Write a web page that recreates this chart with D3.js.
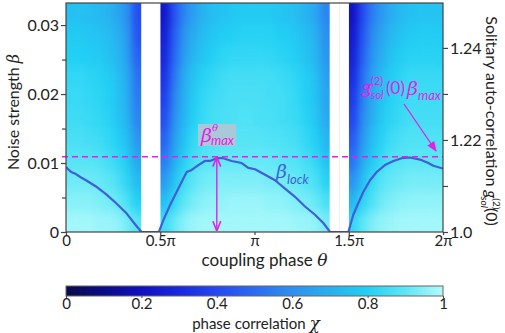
<!DOCTYPE html>
<html><head><meta charset="utf-8">
<script src="https://cdn.jsdelivr.net/npm/d3@7"></script>
<style>
html,body{margin:0;padding:0;background:#fff;}
svg{display:block;font-family:Lato,"Open Sans",sans-serif;}
</style></head><body>
<svg id="c" width="505" height="333"></svg>
<script>
// ---------- DATA ----------
// heatmap columns: theta bins (units of pi), width 0.05 pi, from 0 to 2 pi
const thetaBinStart = d3.range(40).map(k => k * 0.05);
const thetaBinWidth = 0.05;
// beta bins (rows), bottom edges, height 0.003
const betaBinStart = [0, 0.003, 0.006, 0.009, 0.012, 0.015, 0.018, 0.021, 0.024, 0.027, 0.030];
const betaBinHeight = 0.003;
const n = null;
// chi values, rows from bottom (beta 0) to top; null = no data (white gap)
const chiRow0  = [0.98,0.98,0.98,0.97,0.97,0.96,0.93,0.89,n,n, 0.85,0.91,0.95,0.97,0.98,0.98,0.98,0.98,0.98,0.98,0.98,0.98,0.98,0.98,0.97,0.97,0.96,0.93,n,n, 0.83,0.90,0.94,0.96,0.97,0.98,0.98,0.98,0.98,0.98];
const chiRow1  = [0.95,0.95,0.95,0.94,0.93,0.91,0.87,0.80,n,n, 0.74,0.83,0.90,0.93,0.95,0.96,0.96,0.97,0.97,0.97,0.97,0.96,0.96,0.95,0.94,0.93,0.91,0.87,n,n, 0.72,0.82,0.88,0.92,0.94,0.95,0.96,0.96,0.96,0.96];
const chiRow2  = [0.92,0.92,0.92,0.91,0.90,0.87,0.82,0.73,n,n, 0.63,0.76,0.85,0.90,0.92,0.93,0.94,0.94,0.94,0.94,0.94,0.93,0.93,0.92,0.91,0.89,0.87,0.81,n,n, 0.61,0.75,0.84,0.89,0.91,0.92,0.93,0.93,0.93,0.93];
const chiRow3  = [0.89,0.89,0.89,0.88,0.86,0.83,0.78,0.67,n,n, 0.54,0.69,0.80,0.86,0.89,0.90,0.91,0.91,0.91,0.91,0.91,0.91,0.90,0.89,0.88,0.86,0.83,0.76,n,n, 0.52,0.68,0.78,0.84,0.88,0.89,0.90,0.90,0.90,0.90];
const chiRow4  = [0.87,0.87,0.86,0.85,0.83,0.80,0.74,0.62,n,n, 0.47,0.64,0.76,0.83,0.86,0.88,0.89,0.89,0.89,0.89,0.89,0.88,0.88,0.87,0.86,0.83,0.80,0.72,n,n, 0.45,0.63,0.75,0.81,0.85,0.87,0.88,0.88,0.88,0.88];
const chiRow5  = [0.85,0.85,0.84,0.83,0.81,0.77,0.71,0.57,n,n, 0.41,0.60,0.72,0.80,0.84,0.86,0.87,0.87,0.88,0.88,0.87,0.87,0.86,0.85,0.84,0.81,0.77,0.68,n,n, 0.39,0.59,0.70,0.78,0.82,0.84,0.86,0.86,0.86,0.86];
const chiRow6  = [0.84,0.84,0.83,0.82,0.80,0.76,0.69,0.54,n,n, 0.37,0.57,0.70,0.78,0.83,0.85,0.86,0.87,0.87,0.87,0.87,0.86,0.86,0.85,0.83,0.80,0.76,0.66,n,n, 0.35,0.56,0.68,0.76,0.81,0.83,0.85,0.85,0.85,0.85];
const chiRow7  = [0.83,0.83,0.82,0.81,0.79,0.75,0.68,0.51,n,n, 0.33,0.53,0.68,0.76,0.81,0.83,0.85,0.86,0.86,0.86,0.86,0.86,0.85,0.84,0.82,0.79,0.75,0.65,n,n, 0.31,0.51,0.66,0.74,0.79,0.82,0.84,0.84,0.84,0.84];
const chiRow8  = [0.80,0.80,0.79,0.78,0.76,0.72,0.65,0.47,n,n, 0.29,0.49,0.64,0.72,0.77,0.80,0.82,0.83,0.83,0.83,0.83,0.83,0.82,0.81,0.79,0.76,0.72,0.62,n,n, 0.27,0.47,0.62,0.70,0.76,0.79,0.81,0.81,0.81,0.81];
const chiRow9  = [0.78,0.78,0.77,0.76,0.74,0.70,0.63,0.43,n,n, 0.26,0.46,0.61,0.69,0.74,0.77,0.79,0.80,0.81,0.81,0.81,0.81,0.80,0.79,0.77,0.74,0.70,0.60,n,n, 0.24,0.44,0.59,0.67,0.73,0.76,0.78,0.79,0.79,0.79];
const chiRow10 = [0.75,0.75,0.74,0.73,0.71,0.67,0.60,0.41,n,n, 0.23,0.43,0.57,0.65,0.71,0.74,0.76,0.77,0.78,0.78,0.78,0.78,0.77,0.76,0.74,0.71,0.67,0.57,n,n, 0.21,0.41,0.55,0.63,0.69,0.73,0.75,0.76,0.76,0.76];
const chiRows = [chiRow0,chiRow1,chiRow2,chiRow3,chiRow4,chiRow5,chiRow6,chiRow7,chiRow8,chiRow9,chiRow10];

// beta_lock curve
const lockTheta = [0,0.027,0.053,0.08,0.106,0.159,0.212,0.265,0.318,0.361,0.40,0.493,0.516,0.552,0.596,0.640,0.667,0.702,0.737,0.764,0.799,0.834,0.879,0.932,0.967,1.003,1.056,1.109,1.162,1.215,1.268,1.321,1.365,1.401,1.498,1.524,1.551,1.577,1.613,1.648,1.692,1.737,1.781,1.825,1.878,1.922,1.949,2.0];
const lockBeta  = [0.0094,0.0087,0.0084,0.0079,0.0075,0.0066,0.0055,0.0042,0.0028,0.0013,0,0,0.0017,0.0039,0.0063,0.0087,0.0090,0.0097,0.0103,0.0103,0.0107,0.0107,0.0103,0.0100,0.0093,0.0091,0.0083,0.0075,0.0063,0.0051,0.0037,0.0025,0.0013,0,0,0.0025,0.0042,0.0058,0.0075,0.0087,0.0097,0.0103,0.0107,0.0108,0.0105,0.0100,0.0096,0.0092];
const betaMax = 0.0109;
const betaMaxTheta = 0.80;

// ticks
const xTickValues = [0, 0.5, 1, 1.5, 2];
const xTickLabels = ["0", "0.5\u03c0", "\u03c0", "1.5\u03c0", "2\u03c0"];
const yTickValues = [0, 0.01, 0.02, 0.03];
const yTickLabels = ["0", "0.01", "0.02", "0.03"];
const yMinorTicks = [0.005, 0.015, 0.025];
const rightTickValues = [0, 1, 2, 3, 4];
const rightTickLabels = ["1.0", "", "1.22", "", "1.24"];
const cbTickValues = [0, 0.2, 0.4, 0.6, 0.8, 1];
const cbTickLabels = ["0", "0.2", "0.4", "0.6", "0.8", "1"];

// colormap
const cmapStops  = [0, 0.1, 0.2, 0.3, 0.4, 0.5, 0.6, 0.7, 0.8, 0.9, 1.0];
const cmapColors = ["#0a0a48","#0c0c88","#1010c0","#1828e0","#2448f2","#2a6cf4","#2c90f0","#28b0f0","#22d0f4","#5ce6f6","#b4fbfb"];

// ---------- LAYOUT ----------
const L = 66, R = 443, T = 3, B = 232;
const MAGENTA = "#e61ee6", LOCKBLUE = "#3d5fd8", AXIS = "#444";
const svg = d3.select("#c");
const x = d3.scaleLinear().domain([0, 2]).range([L, R]);
const y = d3.scaleLinear().domain([0, 0.0332]).range([B, T]);
const yR = d3.scaleLinear().domain([0, 4.976]).range([B, T]);
const color = d3.scaleLinear().domain(cmapStops).range(cmapColors).clamp(true);
const defs = svg.append("defs");

defs.append("clipPath").attr("id","plotclip").append("rect")
  .attr("x", L).attr("y", T).attr("width", R - L).attr("height", B - T);
// smoothing filter: blur the cell grid, then restore full opacity
const filt = defs.append("filter").attr("id","smooth").attr("filterUnits","userSpaceOnUse")
  .attr("x", L - 30).attr("y", T - 30).attr("width", R - L + 60).attr("height", B - T + 60)
  .attr("color-interpolation-filters","sRGB");
filt.append("feGaussianBlur").attr("in","SourceGraphic").attr("stdDeviation","3.5 6");
filt.append("feComponentTransfer").append("feFuncA").attr("type","table").attr("tableValues","1 1");

const heatOuter = svg.append("g").attr("clip-path","url(#plotclip)");
const heat = heatOuter.append("g").attr("filter","url(#smooth)");
chiRows.forEach((row, r) => {
  row.forEach((v, k) => {
    if (v == null) return;
    const x0 = x(thetaBinStart[k]), x1 = x(thetaBinStart[k] + thetaBinWidth);
    const y0 = y(betaBinStart[r] + betaBinHeight), y1 = y(betaBinStart[r]);
    heat.append("rect").attr("x", x0).attr("y", y0 - 0.3)
      .attr("width", x1 - x0 + 0.4).attr("height", y1 - y0 + 0.6)
      .attr("fill", color(v));
  });
});
// white gaps where there is no data
chiRow0.forEach((v, k) => {
  if (v != null) return;
  heatOuter.append("rect").attr("x", x(thetaBinStart[k]) - 0.2).attr("y", T)
    .attr("width", x(thetaBinStart[k] + thetaBinWidth) - x(thetaBinStart[k]) + 0.4)
    .attr("height", B - T).attr("fill", "#fff");
});

// beta_lock line
const line = d3.line().x((d,i) => x(lockTheta[i])).y((d,i) => y(lockBeta[i]));
svg.append("path").datum(lockTheta).attr("d", line)
  .attr("fill","none").attr("stroke", LOCKBLUE).attr("stroke-width", 2.2)
  .attr("stroke-linejoin","round").attr("clip-path","url(#plotclip)");

// dashed beta_max line
svg.append("line").attr("x1", L - 4).attr("x2", R).attr("y1", y(betaMax)).attr("y2", y(betaMax))
  .attr("stroke", MAGENTA).attr("stroke-width", 1.6).attr("stroke-dasharray","6,4");

// frame
svg.append("rect").attr("x", L).attr("y", T).attr("width", R - L).attr("height", B - T)
  .attr("fill","none").attr("stroke", AXIS).attr("stroke-width", 1.2);

// axes
const fs = 16;
const xAxis = d3.axisBottom(x).tickValues(xTickValues).tickFormat((d,i) => xTickLabels[i]).tickSize(3).tickPadding(0);
const gx = svg.append("g").attr("transform", `translate(0,${B})`).call(xAxis);
const yAxis = d3.axisLeft(y).tickValues(yTickValues).tickFormat((d,i) => yTickLabels[i]).tickSize(5).tickPadding(2);
const gy = svg.append("g").attr("transform", `translate(${L},0)`).call(yAxis);
const gym = svg.append("g").attr("transform", `translate(${L},0)`)
  .call(d3.axisLeft(y).tickValues(yMinorTicks).tickFormat("").tickSize(4));
const rAxis = d3.axisRight(yR).tickValues(rightTickValues).tickFormat((d,i) => rightTickLabels[i]).tickSize(5).tickPadding(2);
const gr = svg.append("g").attr("transform", `translate(${R},0)`).call(rAxis);
[gx, gy, gym, gr].forEach(g => {
  g.select(".domain").remove();
  g.selectAll("line").attr("stroke", AXIS).attr("stroke-width", 1.2);
  g.selectAll("text").attr("fill","#222").style("font-size", fs + "px").style("font-family","Lato, sans-serif");
});
gx.selectAll("text").style("font-size","15px");

// axis titles
svg.append("text").attr("x", (L + R) / 2 + 10).attr("y", 266).attr("text-anchor","middle")
  .style("font-size","17px").attr("fill","#222")
  .html('coupling phase <tspan font-style="italic" font-family="DejaVu Serif">\u03b8</tspan>');
svg.append("text").attr("transform","translate(19,112) rotate(-90)").attr("text-anchor","middle")
  .style("font-size","16px").attr("fill","#222")
  .html('Noise strength <tspan font-style="italic" font-family="DejaVu Serif">\u03b2</tspan>');
// right title (reads top to bottom)
const rt = svg.append("text").attr("transform","translate(486,121) rotate(90)").attr("text-anchor","middle")
  .style("font-size","16px").attr("fill","#222");
rt.append("tspan").text("Solitary auto-correlation ");
rt.append("tspan").attr("font-style","italic").text("g");
rt.append("tspan").attr("font-size","10px").attr("dy",-7).text("(2)");
rt.append("tspan").attr("font-size","10px").attr("font-style","italic").attr("dx",-13).attr("dy",12).text("sol");
rt.append("tspan").attr("dy",-5).text("(0)");

// annotations: beta_max^theta
svg.append("rect").attr("x", 198).attr("y", 124).attr("width", 38).attr("height", 22).attr("fill","#a9c9d8");
svg.append("text").attr("x", 201).attr("y", 142).attr("fill", MAGENTA).style("font-size","19px")
  .attr("font-style","italic").attr("font-family","DejaVu Serif").text("\u03b2");
svg.append("text").attr("x", 212).attr("y", 131).attr("fill", MAGENTA).style("font-size","10px")
  .attr("font-style","italic").attr("font-family","DejaVu Serif").text("\u03b8");
svg.append("text").attr("x", 211).attr("y", 145).attr("fill", MAGENTA).style("font-size","13px")
  .attr("font-style","italic").text("max");

// double arrow
defs.append("marker").attr("id","ah").attr("viewBox","0 0 10 10").attr("refX",9).attr("refY",5)
  .attr("markerWidth",7).attr("markerHeight",7).attr("orient","auto-start-reverse")
  .append("path").attr("d","M0,1 L10,5 L0,9").attr("fill","none").attr("stroke",MAGENTA).attr("stroke-width",1.6);
svg.append("line").attr("x1", x(betaMaxTheta)).attr("x2", x(betaMaxTheta))
  .attr("y1", y(betaMax) + 1).attr("y2", B - 2)
  .attr("stroke", MAGENTA).attr("stroke-width", 1.4)
  .attr("marker-start","url(#ah)").attr("marker-end","url(#ah)");

// beta_lock label
svg.append("text").attr("x", 276).attr("y", 178).attr("fill", LOCKBLUE).style("font-size","19px")
  .attr("font-style","italic").attr("font-family","DejaVu Serif").text("\u03b2");
svg.append("text").attr("x", 287).attr("y", 184).attr("fill", LOCKBLUE).style("font-size","13px")
  .attr("font-style","italic").text("lock");

// g(2)sol(0) beta_max label
const ga = svg.append("g").attr("fill", MAGENTA);
ga.append("text").attr("x", 362).attr("y", 94).style("font-size","20px").attr("font-style","italic").text("g");
ga.append("text").attr("x", 371).attr("y", 85).style("font-size","11px").text("(2)");
ga.append("text").attr("x", 371).attr("y", 99).style("font-size","11px").attr("font-style","italic").text("sol");
ga.append("text").attr("x", 386).attr("y", 94).style("font-size","17px").text("(0)");
ga.append("text").attr("x", 407).attr("y", 95).style("font-size","19px").attr("font-style","italic").attr("font-family","DejaVu Serif").text("\u03b2");
ga.append("text").attr("x", 418).attr("y", 100).style("font-size","13px").attr("font-style","italic").text("max");
defs.append("marker").attr("id","ah2").attr("viewBox","0 0 10 10").attr("refX",9).attr("refY",5)
  .attr("markerWidth",8).attr("markerHeight",8).attr("orient","auto")
  .append("path").attr("d","M0,1 L10,5 L0,9 Z").attr("fill",MAGENTA);
svg.append("line").attr("x1", 404).attr("y1", 104).attr("x2", 436).attr("y2", 151)
  .attr("stroke", MAGENTA).attr("stroke-width", 1.3).attr("marker-end","url(#ah2)");

// colorbar
const cbX = d3.scaleLinear().domain([0,1]).range([L, R]);
const grad = defs.append("linearGradient").attr("id","cbg").attr("x1","0%").attr("x2","100%");
cmapStops.forEach((s,i) => grad.append("stop").attr("offset", (s*100)+"%").attr("stop-color", cmapColors[i]));
svg.append("rect").attr("x", L).attr("y", 286).attr("width", R - L).attr("height", 10)
  .attr("fill","url(#cbg)").attr("stroke","#666").attr("stroke-width",1);
const gcb = svg.append("g").attr("transform","translate(0,296)")
  .call(d3.axisBottom(cbX).tickValues(cbTickValues).tickFormat((d,i) => cbTickLabels[i]).tickSize(2).tickPadding(0));
gcb.select(".domain").remove();
gcb.selectAll("line").attr("stroke","#444");
gcb.selectAll("text").attr("fill","#222").style("font-size","15px").style("font-family","Lato, sans-serif");
svg.append("text").attr("x", 256).attr("y", 329).attr("text-anchor","middle")
  .style("font-size","15px").attr("fill","#222")
  .html('phase correlation  <tspan font-style="italic" font-family="DejaVu Serif" font-size="17px">\u03c7</tspan>');
</script>
</body></html>
